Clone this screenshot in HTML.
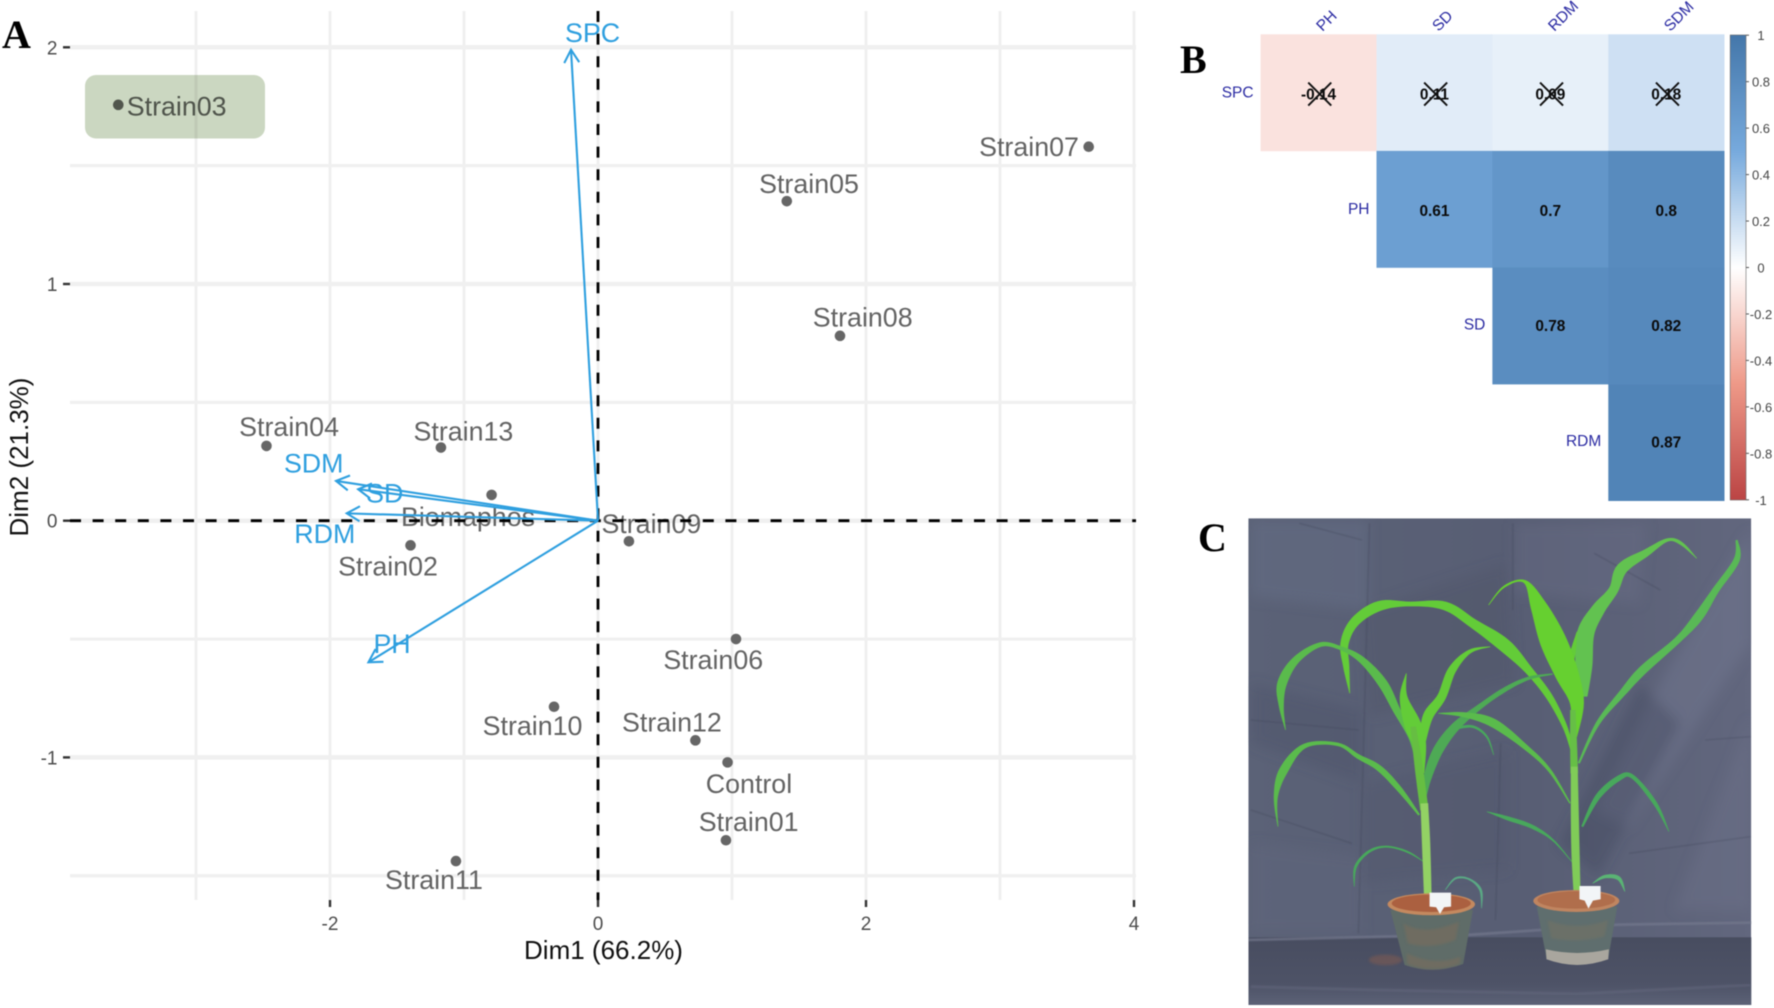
<!DOCTYPE html>
<html lang="en">
<head>
<meta charset="utf-8">
<title>PCA biplot, correlation matrix and maize photo</title>
<style>
html,body{margin:0;padding:0;background:#fff;width:1774px;height:1008px;overflow:hidden}
svg{display:block;filter:blur(.65px)}
text{font-family:"Liberation Sans",Arial,sans-serif}
.letter{font-family:"Liberation Serif","Times New Roman",serif;font-weight:700;font-size:40px;fill:#000}
</style>
</head>
<body>
<svg id="fig" xmlns="http://www.w3.org/2000/svg" width="1774" height="1008" viewBox="0 0 1774 1008">
  <defs>
    <linearGradient id="legendGrad" x1="0" y1="0" x2="0" y2="1">
      <stop offset="0" stop-color="#4477AA"/>
      <stop offset=".25" stop-color="#77AADD"/>
      <stop offset=".5" stop-color="#FFFFFF"/>
      <stop offset=".75" stop-color="#EE9988"/>
      <stop offset="1" stop-color="#BB4444"/>
    </linearGradient>
    <linearGradient id="bgGrad" x1="0" y1="0" x2="1" y2="0">
      <stop offset="0" stop-color="#5b6277"/>
      <stop offset=".55" stop-color="#585e74"/>
      <stop offset="1" stop-color="#62677e"/>
    </linearGradient>
    <linearGradient id="floorGrad" x1="0" y1="0" x2="0" y2="1">
      <stop offset="0" stop-color="#484d60"/>
      <stop offset=".7" stop-color="#4e5367"/>
      <stop offset="1" stop-color="#5c6277"/>
    </linearGradient>
    <filter id="foldBlur" x="-10%" y="-10%" width="120%" height="120%"><feGaussianBlur stdDeviation="18"/></filter>
    <filter id="seamBlur"><feGaussianBlur stdDeviation="1.5"/></filter>
    <filter id="soilBlur"><feGaussianBlur stdDeviation="4"/></filter>
    <clipPath id="photoClip"><rect x="53" y="25" width="1449" height="1460"/></clipPath>
  </defs>

  <g id="panelA"></g>
  <g id="panelB"></g>

  <g id="panelC" transform="translate(1230,510) scale(0.347,0.3333)" clip-path="url(#photoClip)">
    <rect x="53" y="25" width="1449" height="1460" fill="url(#bgGrad)"/>
    <g filter="url(#foldBlur)">
      <polygon points="1500,60 1250,500 1050,900 1150,950 1500,400" fill="#767b94" opacity=".4"/>
      <polygon points="1180,520 950,1000 1060,1100 1300,640" fill="#3f445a" opacity=".35"/>
      <polygon points="1500,620 1280,1200 1500,1200" fill="#72778f" opacity=".3"/>
      <polygon points="60,30 400,30 400,300 60,260" fill="#6a718a" opacity=".4"/>
      <polygon points="380,300 800,160 820,520 400,620" fill="#4e5469" opacity=".4"/>
      <polygon points="60,520 380,600 380,820 60,700" fill="#4b5166" opacity=".35"/>
      <polygon points="380,820 800,720 800,1080 380,1120" fill="#4e546a" opacity=".35"/>
      <polygon points="60,1000 380,1040 380,1270 60,1270" fill="#646a80" opacity=".3"/>
      <polygon points="820,40 1200,40 1180,280 820,250" fill="#6c728b" opacity=".3"/>
    </g>
    <g fill="none" stroke="#3e4356" stroke-width="2.5" opacity=".45" filter="url(#seamBlur)">
      <path d="M402,40 L385,700 L370,1270"/>
      <path d="M815,40 L815,300 M780,700 L765,1230"/>
      <path d="M60,630 L370,660 M60,900 L350,1000 M200,40 L380,90"/>
      <path d="M1150,1030 L1500,980 M1370,690 L1500,680 M1240,240 L1050,130"/>
    </g>
    <rect x="53" y="1282" width="1449" height="203" fill="url(#floorGrad)"/>
    <path d="M53,1290 L700,1274 L1120,1244 L1502,1238" fill="none" stroke="#74798e" stroke-width="8" opacity=".7" filter="url(#seamBlur)"/>
    <path d="M60,1430 L420,1440 L1000,1452 L1500,1425" fill="none" stroke="#666b80" stroke-width="9" opacity=".45" filter="url(#seamBlur)"/>
    <ellipse cx="448" cy="1350" rx="48" ry="16" fill="#7c5a52" opacity=".6" filter="url(#soilBlur)"/>
    <g id="leaves"></g>

    <g>
      <path d="M462,1200 L700,1200 L672,1362 Q585,1395 503,1365 Z" fill="#5f6c68"/>
      <path d="M500,1240 Q560,1280 660,1235 L650,1290 Q580,1320 512,1300 Z M510,1330 Q590,1370 665,1340 L662,1362 Q585,1392 510,1362 Z" fill="#7d6d5c" opacity=".55" filter="url(#soilBlur)"/>
      <ellipse cx="580" cy="1183" rx="126" ry="33" fill="#c4895f"/>
      <ellipse cx="580" cy="1180" rx="114" ry="26" fill="#ab6040"/>
      <path d="M575,1148 L637,1148 L637,1190 L617,1192 L605,1212 L594,1192 L575,1190 Z" fill="#f2f5f7"/>
    </g>
    <g>
      <path d="M884,1190 L1116,1190 L1090,1345 Q1000,1385 912,1345 Z" fill="#5f6e6e"/>
      <path d="M910,1318 Q1000,1340 1092,1318 L1090,1348 Q1000,1382 912,1348 Z" fill="#a9a69e"/>
      <path d="M915,1230 Q1000,1265 1090,1230 L1080,1280 Q1000,1300 925,1285 Z" fill="#7d7561" opacity=".4" filter="url(#soilBlur)"/>
      <ellipse cx="998" cy="1173" rx="124" ry="33" fill="#c08560"/>
      <ellipse cx="998" cy="1170" rx="112" ry="26" fill="#b06e4c"/>
      <path d="M1007,1128 L1068,1128 L1068,1168 L1046,1172 L1033,1196 L1022,1172 L1007,1168 Z" fill="#f2f5f7"/>
    </g>
  </g>

  <text class="letter" x="2" y="48">A</text>
  <text class="letter" x="1180" y="73">B</text>
  <text class="letter" x="1198" y="551">C</text>
</svg>

<script>
// ---- Panel A data ----
const strainNames = ["Strain03","Strain04","Strain13","Biomaphos","Strain02","Strain09","Strain06","Strain07","Strain05","Strain08","Strain10","Strain12","Control","Strain01","Strain11"];
const strainDim1 = [-3.58,-2.474,-1.172,-0.794,-1.399,0.231,1.03,3.662,1.409,1.806,-0.328,0.727,0.967,0.955,-1.06];
const strainDim2 = [1.757,0.316,0.309,0.109,-0.104,-0.087,-0.50,1.58,1.35,0.781,-0.786,-0.928,-1.021,-1.35,-1.438];
const varNames = ["SPC","SDM","SD","RDM","PH"];
const varDim1 = [-0.2015,-1.955,-1.79,-1.875,-1.713];
const varDim2 = [1.99,0.168,0.133,0.031,-0.598];
const xMajorTicks = [-2,0,2,4];
const xMinorGrid = [-3,-1,1,3];
const yMajorTicks = [-1,0,1,2];
const yMinorGrid = [-1.5,-0.5,0.5,1.5];
const xAxisTitle = "Dim1 (66.2%)";
const yAxisTitle = "Dim2 (21.3%)";

// ---- Panel B data ----
const corrColumns = ["PH","SD","RDM","SDM"];
const corrRows = ["SPC","PH","SD","RDM"];
const corrSPC = [-0.14,0.11,0.09,0.18];
const corrPH = [0.61,0.7,0.8];
const corrSD = [0.78,0.82];
const corrRDM = [0.87];
const corrInsignificant = [true,false,false,false];
const legendTicks = [1,0.8,0.6,0.4,0.2,0,-0.2,-0.4,-0.6,-0.8,-1];

const NS = "http://www.w3.org/2000/svg";
function mk(parent, tag, attrs, txt){
  const el = document.createElementNS(NS, tag);
  for (const k in attrs) el.setAttribute(k, attrs[k]);
  if (txt !== undefined) el.textContent = txt;
  parent.appendChild(el);
  return el;
}

// ---- Panel A ----
function drawBiplot(){
  const g = document.getElementById("panelA");
  const X = v => 598 + 134 * v;
  const Y = v => 520.7 - 236.7 * v;
  const left = 70, right = 1136, top = 11, bottom = 900;
  const grey = "#f0f0f0";
  let el;

  xMinorGrid.concat(xMajorTicks).forEach(v => {
    el = mk(g, "line", {x1:X(v), x2:X(v), y1:top, y2:bottom, stroke:grey, "stroke-width":3});
    
    
  });
  yMinorGrid.forEach(v => {
    el = mk(g, "line", {x1:left, x2:right, y1:Y(v), y2:Y(v), stroke:grey, "stroke-width":3.2});
    
    
  });
  yMajorTicks.forEach(v => {
    el = mk(g, "line", {x1:left, x2:right, y1:Y(v), y2:Y(v), stroke:grey, "stroke-width":4.5});
    
    
  });

  xMajorTicks.forEach(v => {
    el = mk(g, "line", {x1:X(v), x2:X(v), y1:bottom, y2:bottom+7, stroke:"#333", "stroke-width":2.4});
    
    
    el = mk(g, "text", {x:X(v), y:930, "text-anchor":"middle", "font-size":19, fill:"#4d4d4d"}, String(v));
    
    
  });
  yMajorTicks.forEach(v => {
    el = mk(g, "line", {x1:63, x2:left, y1:Y(v), y2:Y(v), stroke:"#333", "stroke-width":2.4});
    
    
    el = mk(g, "text", {x:57.5, y:Y(v)+7, "text-anchor":"end", "font-size":19, fill:"#4d4d4d"}, String(v));
    
    
  });

  el = mk(g, "text", {x:603.5, y:959, "text-anchor":"middle", "font-size":26, fill:"#111"}, xAxisTitle);
  
  
  el = mk(g, "text", {transform:"translate(28,457) rotate(-90)", "text-anchor":"middle", "font-size":26, fill:"#111"}, yAxisTitle);
  
  

  // label offsets from each point (layout only)
  const labelOffset = {
    Strain03:[58.4,1.3], Strain04:[22.6,-19.3], Strain13:[22.5,-16.7], Biomaphos:[-23.6,21.7],
    Strain02:[-22.5,20.7], Strain09:[22.4,-18], Strain06:[-22.8,20.2], Strain07:[-59.7,0],
    Strain05:[22.2,-17.6], Strain08:[22.7,-19], Strain10:[-21.5,19], Strain12:[-23.5,-18.6],
    Control:[21.4,21], Strain01:[22.7,-18.6], Strain11:[-22,18.5]
  };
  strainNames.forEach((name,i) => {
    const px = X(strainDim1[i]), py = Y(strainDim2[i]);
    const off = labelOffset[name] || [0,-18];
    let mark = mk(g, "circle", {cx:px, cy:py, r:5.3, fill:"#666"});
    
    
    let lab = mk(g, "text", {x:px+off[0], y:py+off[1]+9.5, "text-anchor":"middle", "font-size":26.8, fill:"#636363"}, name);
    
    
  });

  el = mk(g, "line", {x1:left, x2:right, y1:Y(0), y2:Y(0), stroke:"#000", "stroke-width":2.8, "stroke-dasharray":"11 11.6"});
  
  
  el = mk(g, "line", {x1:X(0), x2:X(0), y1:top, y2:bottom, stroke:"#000", "stroke-width":2.8, "stroke-dasharray":"11 11.6"});
  
  

  const varOffset = {SPC:[21.6,-17], SDM:[-22.3,-17.7], SD:[26.6,4], RDM:[-22,20], PH:[23.6,-18.5]};
  const blue = "#2e9fdf";
  varNames.forEach((name,i) => {
    const tx = X(varDim1[i]), ty = Y(varDim2[i]), ox = X(0), oy = Y(0);
    const ang = Math.atan2(ty-oy, tx-ox), hl = 15, ha = Math.PI/6;
    const a1x = tx - hl*Math.cos(ang-ha), a1y = ty - hl*Math.sin(ang-ha);
    const a2x = tx - hl*Math.cos(ang+ha), a2y = ty - hl*Math.sin(ang+ha);
    let shaft = mk(g, "line", {x1:ox, y1:oy, x2:tx, y2:ty, stroke:blue, "stroke-width":2.1});
    
    
    let head = mk(g, "polyline", {points:a1x+","+a1y+" "+tx+","+ty+" "+a2x+","+a2y, fill:"none", stroke:blue, "stroke-width":2.1});
    
    
    const off = varOffset[name] || [0,-16];
    let lab = mk(g, "text", {x:tx+off[0], y:ty+off[1]+9.5, "text-anchor":"middle", "font-size":26.8, fill:blue}, name);
    
    
  });

  el = mk(g, "rect", {x:85, y:75, width:180, height:63.5, rx:11, fill:"#cbd7c1", style:"mix-blend-mode:multiply"});
  
  
}

// ---- Panel B ----
function corrColor(v){
  const stops = [[-1,[187,68,68]],[-0.5,[238,153,136]],[0,[255,255,255]],[0.5,[119,170,221]],[1,[68,119,170]]];
  for (let i=0;i<stops.length-1;i++){
    const a=stops[i], b=stops[i+1];
    if (v<=b[0]){
      const t=(v-a[0])/(b[0]-a[0]);
      const c=a[1].map((q,k)=>Math.round(q+(b[1][k]-q)*t));
      return "rgb("+c.join(",")+")";
    }
  }
  return "rgb(68,119,170)";
}
function drawCorr(){
  const g = document.getElementById("panelB");
  const cw = 115.9, ch = 116.6, x0 = 1260.6, y0 = 34.3;
  const CX = c => x0 + c*cw;
  const RY = r => y0 + r*ch;
  const rowsData = [corrSPC, corrPH, corrSD, corrRDM];
  const navy = "#2a2aa2";
  const valueNudge = [7, 7, 5, 5.2];
  const rowLabelNudge = [5, 5, 3.5, 3.5];
  let el;

  rowsData.forEach((vals,r) => {
    vals.forEach((v,k) => {
      const c = r + k;
      const key = corrRows[r].toLowerCase() + '-' + corrColumns[c].toLowerCase();
      let cell = mk(g, "rect", {x:CX(c), y:RY(r), width:cw+.3, height:ch+.3, fill:corrColor(v)});
      
      
      const cx = CX(c)+cw/2, cy = RY(r)+ch/2;
      let val = mk(g, "text", {x:cx, y:cy+valueNudge[r], "text-anchor":"middle", "font-size":15.4, "font-weight":700, fill:"#0b0b0b"}, String(v));
      
      
      if (corrInsignificant[r]) {
        const s = 11.5, off = 1.2;
        let cross = mk(g, "path", {d:"M"+(cx-s+off)+","+(cy-s+1.5)+" L"+(cx+s+off)+","+(cy+s+1.5)+" M"+(cx+s+off)+","+(cy-s+1.5)+" L"+(cx-s+off)+","+(cy+s+1.5), stroke:"#111", "stroke-width":1.9, fill:"none"});
        
        
      }
    });
  });

  corrColumns.forEach((name,c) => {
    const sx = CX(c)+cw/2+4, sy = 32;
    let lab = mk(g, "text", {transform:"translate("+sx+","+sy+") rotate(-45)", "font-size":15.5, fill:navy}, name);
    
    
  });
  corrRows.forEach((name,r) => {
    let lab = mk(g, "text", {x:CX(r)-7, y:RY(r)+ch/2+rowLabelNudge[r], "text-anchor":"end", "font-size":15.5, fill:navy}, name);
    
    
  });

  el = mk(g, "rect", {x:1730.2, y:35, width:15.8, height:465, fill:"url(#legendGrad)", stroke:"#666", "stroke-width":.6});
  
  
  const LY = v => 267.5 - 232.3*v;
  legendTicks.forEach(v => {
    let t = mk(g, "line", {x1:1746, x2:1749, y1:LY(v), y2:LY(v), stroke:"#555", "stroke-width":1});
    
    
    let lab = mk(g, "text", {x:1761, y:LY(v)+5, "text-anchor":"middle", "font-size":13, fill:"#444"}, String(v));
    
    
  });
}

// ---- Panel C: plant illustration ----
function leafPath(p){
  const pts = [];
  const get = i => p[Math.max(0,Math.min(p.length-1,i))];
  for (let i=0;i<p.length-1;i++){
    const a=get(i-1), b=get(i), c=get(i+1), d=get(i+2);
    for (let s=0;s<8;s++){
      const t=s/8, t2=t*t, t3=t2*t;
      pts.push([0,1,2].map(k=>0.5*((2*b[k])+(-a[k]+c[k])*t+(2*a[k]-5*b[k]+4*c[k]-d[k])*t2+(-a[k]+3*b[k]-3*c[k]+d[k])*t3)));
    }
  }
  pts.push(p[p.length-1]);
  const l=[], r=[];
  pts.forEach((q,i)=>{
    const u=pts[Math.max(0,i-1)], v=pts[Math.min(pts.length-1,i+1)];
    let dx=v[0]-u[0], dy=v[1]-u[1]; const n=Math.hypot(dx,dy)||1; dx/=n; dy/=n;
    const w=Math.max(q[2],.6);
    l.push((q[0]-dy*w).toFixed(1)+","+(q[1]+dx*w).toFixed(1));
    r.unshift((q[0]+dy*w).toFixed(1)+","+(q[1]-dx*w).toFixed(1));
  });
  return "M"+l.join(" L")+" L"+r.join(" L")+" Z";
}
function drawPlants(){
  const g = document.getElementById("leaves");
  const leafA="#5abb4c", leafB="#63cc38", leafC="#48a85c", stem="#93d264";
  const shapes = [
    ["leaf-lower-small-left",[[358,1130,1],[362,1070,4],[400,1025,4],[450,1010,3],[510,1025,3],[558,1055,1]],leafC],
    ["leaf-pot-left",[[725,1195,1],[722,1140,4],[690,1108,3],[650,1105,3],[620,1140,1]],"#5aa884"],
    ["leaf-droop-left",[[760,735,1],[740,680,3],[700,650,4],[650,655,4]],leafC],
    ["leaf-arching-left",[[345,550,1],[335,470,9],[330,400,12],[360,335,14],[430,288,15],[520,282,7],[620,288,13],[700,340,14],[790,405,20],[860,480,12],[920,560,10],[965,650,7],[985,720,4]],leafB],
    ["leaf-upper-left",[[160,660,1],[148,590,7],[150,520,14],[190,450,11],[260,404,7],[320,415,6],[380,450,10],[440,520,14],[480,600,11],[520,680,7],[535,740,4]],leafA],
    ["leaf-lower-left",[[138,950,1],[132,860,6],[155,780,13],[215,708,7],[310,703,5],[370,740,7],[430,775,9],[490,840,8],[545,915,3]],leafA],
    ["leaf-mid-right-a",[[930,492,2],[860,505,5],[790,540,7],[720,590,8],[650,650,13],[600,720,15],[570,800,12],[560,860,6]],"#4eaa55"],
    ["leaf-upper-right-a",[[750,410,1],[690,425,6],[640,480,12],[610,560,13],[570,620,15],[555,700,8]],leafB],
    ["leaf-center-a",[[508,490,1],[500,560,11],[525,640,24],[545,700,20],[550,790,10]],leafB],
    ["stem-a-upper",[[528,650,8],[545,780,12],[560,900,12]],"#66be42"],
    ["stem-a",[[560,880,11],[565,1000,12],[570,1160,11]],stem],
    ["leaf-lower-left-b",[[740,905,1],[800,925,6],[870,950,6],[930,990,3],[985,1055,1]],leafC],
    ["leaf-pot-right",[[1138,1145,1],[1120,1105,6],[1080,1100,5],[1045,1120,1]],"#5ab474"],
    ["leaf-crossing",[[600,610,1],[680,615,8],[760,640,13],[850,710,8],[920,780,5],[980,880,2]],leafA],
    ["leaf-lower-right-b",[[1265,965,1],[1225,880,6],[1160,800,6],[1120,805,8],[1060,860,8],[1015,950,3]],leafC],
    ["leaf-long-right",[[1460,90,3],[1460,150,9],[1400,240,10],[1350,320,14],[1290,390,10],[1190,480,13],[1130,550,10],[1060,640,6],[1005,760,3]],"#59b956"],
    ["leaf-top-right",[[1345,145,1],[1300,100,5],[1260,90,5],[1200,128,11],[1130,175,17],[1105,240,14],[1060,300,20],[1025,370,25],[1020,470,24],[1020,560,10]],"#62c250"],
    ["leaf-small-center",[[1000,365,1],[985,440,9],[970,490,6]],leafB],
    ["leaf-center-b",[[745,285,1],[790,230,3],[850,215,5],[890,290,24],[930,390,38],[970,490,34],[1000,580,20],[990,680,10]],"#66d030"],
    ["stem-b-upper",[[988,600,8],[990,700,10],[992,790,11]],"#66bf46"],
    ["stem-b",[[992,770,10],[995,1000,12],[1000,1150,10]],"#80cc58"]
  ];
  shapes.forEach(s => {
    let leaf = mk(g, "path", {d:leafPath(s[1]), fill:s[2]});
    
    
  });
}

drawBiplot();
drawCorr();
drawPlants();
</script>
</body>
</html>
